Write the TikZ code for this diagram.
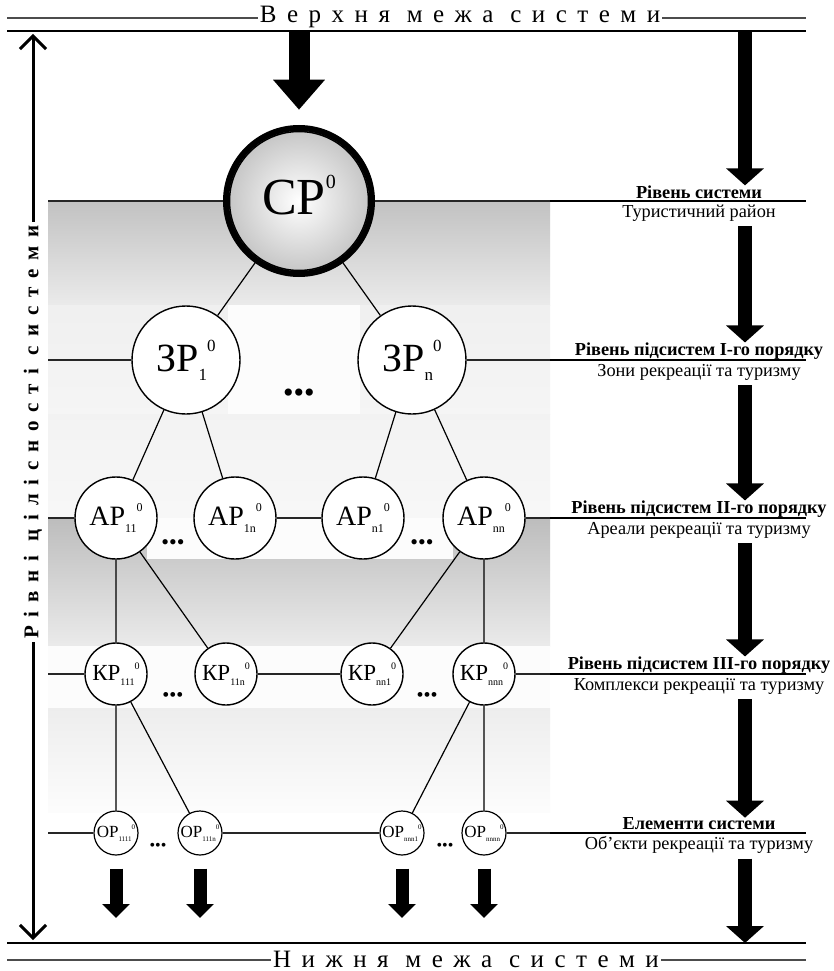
\documentclass[tikz,border=0pt]{standalone}
\usepackage{fontspec}
\setmainfont{Liberation Serif}
\newfontfamily\spacedfont[LetterSpace=42]{Liberation Serif}
\usetikzlibrary{arrows.meta,positioning,shapes.geometric}

% label of a node: letters, index, upper 0
\newcommand{\lvlabel}[4]{\fontsize{#1}{#1}\selectfont #2\raisebox{-0.22em}{\fontsize{#4}{#4}\selectfont #3}\raisebox{0.5em}{\fontsize{#4}{#4}\selectfont 0}}

\begin{document}
\begin{tikzpicture}[x=1pt,y=-1pt,
  lvnode/.style={circle, draw, line width=1.4pt, fill=white, inner sep=0pt},
  zpnode/.style={lvnode, minimum size=108pt},
  apnode/.style={lvnode, minimum size=82pt},
  kpnode/.style={lvnode, minimum size=62pt},
  opnode/.style={lvnode, minimum size=44pt, line width=1.2pt},
  link/.style={line width=1.2pt},
  levline/.style={line width=1.2pt, black!85},
  rightline/.style={line width=2.6pt},
  titleline/.style={line width=1.4pt, black!70},
  frameline/.style={line width=2.8pt},
  titletext/.style={fill=white, inner sep=2pt, font=\spacedfont\fontsize{25}{28}\selectfont},
  vtext/.style={fill=white, inner sep=3pt, rotate=90, font=\spacedfont\bfseries\fontsize{21}{24}\selectfont},
  lrarrow/.style={line width=3pt, {Straight Barb[length=13pt,width=26pt]}-{Straight Barb[length=13pt,width=26pt]}},
  toparrow/.style={line width=21pt, -{Triangle[length=30pt,width=50pt]}},
  bigarrow/.style={line width=14pt, -{Triangle[length=17pt,width=37pt]}},
  smallarrow/.style={line width=13pt, -{Triangle[length=14pt,width=27pt]}},
  boldlab/.style={inner sep=0pt, font=\bfseries\fontsize{18.3}{20}\selectfont},
  sublab/.style={inner sep=0pt, font=\fontsize{18.3}{20}\selectfont},
  dots/.style={inner sep=0pt}]
\useasboundingbox (0,0) rectangle (834,971);
\fill[white] (0,0) rectangle (834,971);

% shaded bands
\fill[top color=black!24, bottom color=black!8] (48,201) rectangle (550,305);
\fill[top color=black!6, bottom color=black!4] (48,305) rectangle (550,414);
\fill[black!1] (228,305) rectangle (360,414);
\fill[top color=black!5, bottom color=black!3] (48,414) rectangle (550,518);
\fill[top color=black!26, bottom color=black!8] (48,518) rectangle (550,646);
\fill[black!1] (147,518) rectangle (453,559);
\fill[black!1] (48,646) rectangle (550,708);
\fill[top color=black!7, bottom color=black!1] (48,708) rectangle (550,812);

% frame
\coordinate (ttl) at (7,18);   \coordinate (ttr) at (806,18);
\coordinate (ftl) at (7,31);   \coordinate (ftr) at (806,31);
\coordinate (fbl) at (7,943);  \coordinate (fbr) at (806,943);
\coordinate (tbl) at (7,960);  \coordinate (tbr) at (806,960);
\draw[titleline] (ttl) -- (ttr);
\draw[titleline] (tbl) -- (tbr);
\draw[frameline] (ftl) -- (ftr);
\draw[frameline] (fbl) -- (fbr);
\node[titletext] (toptitle) at (460,17) {Верхня межа системи};
\node[titletext] (bottitle) at (466,959) {Нижня межа системи};

% left scale
\coordinate (la) at (33,34);
\coordinate (lb) at (33,940);
\draw[lrarrow] (la) -- (lb);
\node[vtext] (vt) at (33,432) {Рівні цілісності системи};

% nodes
\node[circle, inner sep=0pt, minimum size=139pt, draw, line width=1.5pt,
  shading=radial, inner color=white, outer color=black!22] (cp) at (299,201) {\lvlabel{52}{СР}{}{20}};
\node[zpnode] (zp1) at (186,360) {\lvlabel{40}{ЗР}{1}{17}};
\node[zpnode] (zpn) at (412,360) {\lvlabel{40}{ЗР}{n}{17}};
\node[apnode] (ap11) at (116,518) {\lvlabel{28}{АР}{11}{12}};
\node[apnode] (ap1n) at (235,518) {\lvlabel{28}{АР}{1n}{12}};
\node[apnode] (apn1) at (363,518) {\lvlabel{28}{АР}{n1}{12}};
\node[apnode] (apnn) at (484,518) {\lvlabel{28}{АР}{nn}{12}};
\node[kpnode] (kp111) at (116,674) {\lvlabel{23}{КР}{111}{10}};
\node[kpnode] (kp11n) at (226,674) {\lvlabel{23}{КР}{11n}{10}};
\node[kpnode] (kpnn1) at (372,674) {\lvlabel{23}{КР}{nn1}{10}};
\node[kpnode] (kpnnn) at (484,674) {\lvlabel{23}{КР}{nnn}{10}};
\node[opnode] (op1111) at (116,833) {\lvlabel{17}{ОР}{1111}{7}};
\node[opnode] (op111n) at (200,833) {\lvlabel{17}{ОР}{111n}{7}};
\node[opnode] (opnnn1) at (402,833) {\lvlabel{17}{ОР}{nnn1}{7}};
\node[opnode] (opnnnn) at (484,833) {\lvlabel{17}{ОР}{nnnn}{7}};

\node[dots, font=\fontsize{30}{30}\selectfont] (zd) at (299,396) {\textbullet\textbullet\textbullet};
\node[dots, font=\fontsize{22}{22}\selectfont] (ad1) at (173,545) {\textbullet\textbullet\textbullet};
\node[dots, font=\fontsize{22}{22}\selectfont] (ad2) at (422,545) {\textbullet\textbullet\textbullet};
\node[dots, font=\fontsize{20}{20}\selectfont] (kd1) at (173,697) {\textbullet\textbullet\textbullet};
\node[dots, font=\fontsize{20}{20}\selectfont] (kd2) at (427,697) {\textbullet\textbullet\textbullet};
\node[dots, font=\fontsize{16}{16}\selectfont] (od1) at (158,847) {\textbullet\textbullet\textbullet};
\node[dots, font=\fontsize{16}{16}\selectfont] (od2) at (445,847) {\textbullet\textbullet\textbullet};

% level lines
\coordinate (l0) at (48,201); \coordinate (r0) at (550,201); \coordinate (e0) at (806,201);
\coordinate (l1) at (48,360); \coordinate (r1) at (550,360); \coordinate (e1) at (806,360);
\coordinate (l2) at (48,518); \coordinate (r2) at (550,518); \coordinate (e2) at (806,518);
\coordinate (l3) at (48,674); \coordinate (r3) at (550,674); \coordinate (e3) at (806,674);
\coordinate (l4) at (48,833); \coordinate (r4) at (550,833); \coordinate (e4) at (806,833);
\draw[levline] (l0) -- (cp) -- (r0);
\draw[levline] (l1) -- (zp1) (zpn) -- (r1);
\draw[levline] (l2) -- (ap11) (ap1n) -- (apn1) (apnn) -- (r2);
\draw[levline] (l3) -- (kp111) (kp11n) -- (kpnn1) (kpnnn) -- (r3);
\draw[levline] (l4) -- (op1111) (op111n) -- (opnnn1) (opnnnn) -- (r4);
\foreach \i in {0,...,4} \draw[rightline] (r\i) -- (e\i);

% links
\draw[link] (cp) -- (zp1) (cp) -- (zpn);
\draw[link] (zp1) -- (ap11) (zp1) -- (ap1n) (zpn) -- (apn1) (zpn) -- (apnn);
\draw[link] (ap11) -- (kp111) (ap11) -- (kp11n) (apnn) -- (kpnn1) (apnn) -- (kpnnn);
\draw[link] (kp111) -- (op1111) (kp111) -- (op111n) (kpnnn) -- (opnnn1) (kpnnn) -- (opnnnn);
\draw[line width=6pt] (cp.center) circle[radius=73pt];

% level names
\node[boldlab] (b0) at (699,192) {Рівень системи};
\node[sublab]  (s0) at (699,213) {Туристичний район};
\node[boldlab] (b1) at (699,351) {Рівень підсистем І-го порядку};
\node[sublab]  (s1) at (699,372) {Зони рекреації та туризму};
\node[boldlab] (b2) at (699,509) {Рівень підсистем ІІ-го порядку};
\node[sublab]  (s2) at (699,530) {Ареали рекреації та туризму};
\node[boldlab] (b3) at (699,665) {Рівень підсистем ІІІ-го порядку};
\node[sublab]  (s3) at (699,686) {Комплекси рекреації та туризму};
\node[boldlab] (b4) at (699,824) {Елементи системи};
\node[sublab]  (s4) at (699,845) {Об’єкти рекреації та туризму};

% arrows
\coordinate (rx) at (745,0);
\draw[toparrow, shorten >=21pt] (ftl -| cp) -- (cp.north);
\draw[bigarrow] (ftl -| rx) -- (b0.north -| rx);
\draw[bigarrow, shorten <=5pt] (s0.south -| rx) -- (b1.north -| rx);
\draw[bigarrow, shorten <=5pt] (s1.south -| rx) -- (b2.north -| rx);
\draw[bigarrow, shorten <=5pt] (s2.south -| rx) -- (b3.north -| rx);
\draw[bigarrow, shorten <=5pt] (s3.south -| rx) -- (b4.north -| rx);
\draw[bigarrow, shorten <=5pt] (s4.south -| rx) -- (fbl -| rx);
\coordinate (botend) at (0,918);
\draw[smallarrow, shorten <=13pt] (op1111.south) -- (op1111.south |- botend);
\draw[smallarrow, shorten <=13pt] (op111n.south) -- (op111n.south |- botend);
\draw[smallarrow, shorten <=13pt] (opnnn1.south) -- (opnnn1.south |- botend);
\draw[smallarrow, shorten <=13pt] (opnnnn.south) -- (opnnnn.south |- botend);
\end{tikzpicture}
\end{document}
